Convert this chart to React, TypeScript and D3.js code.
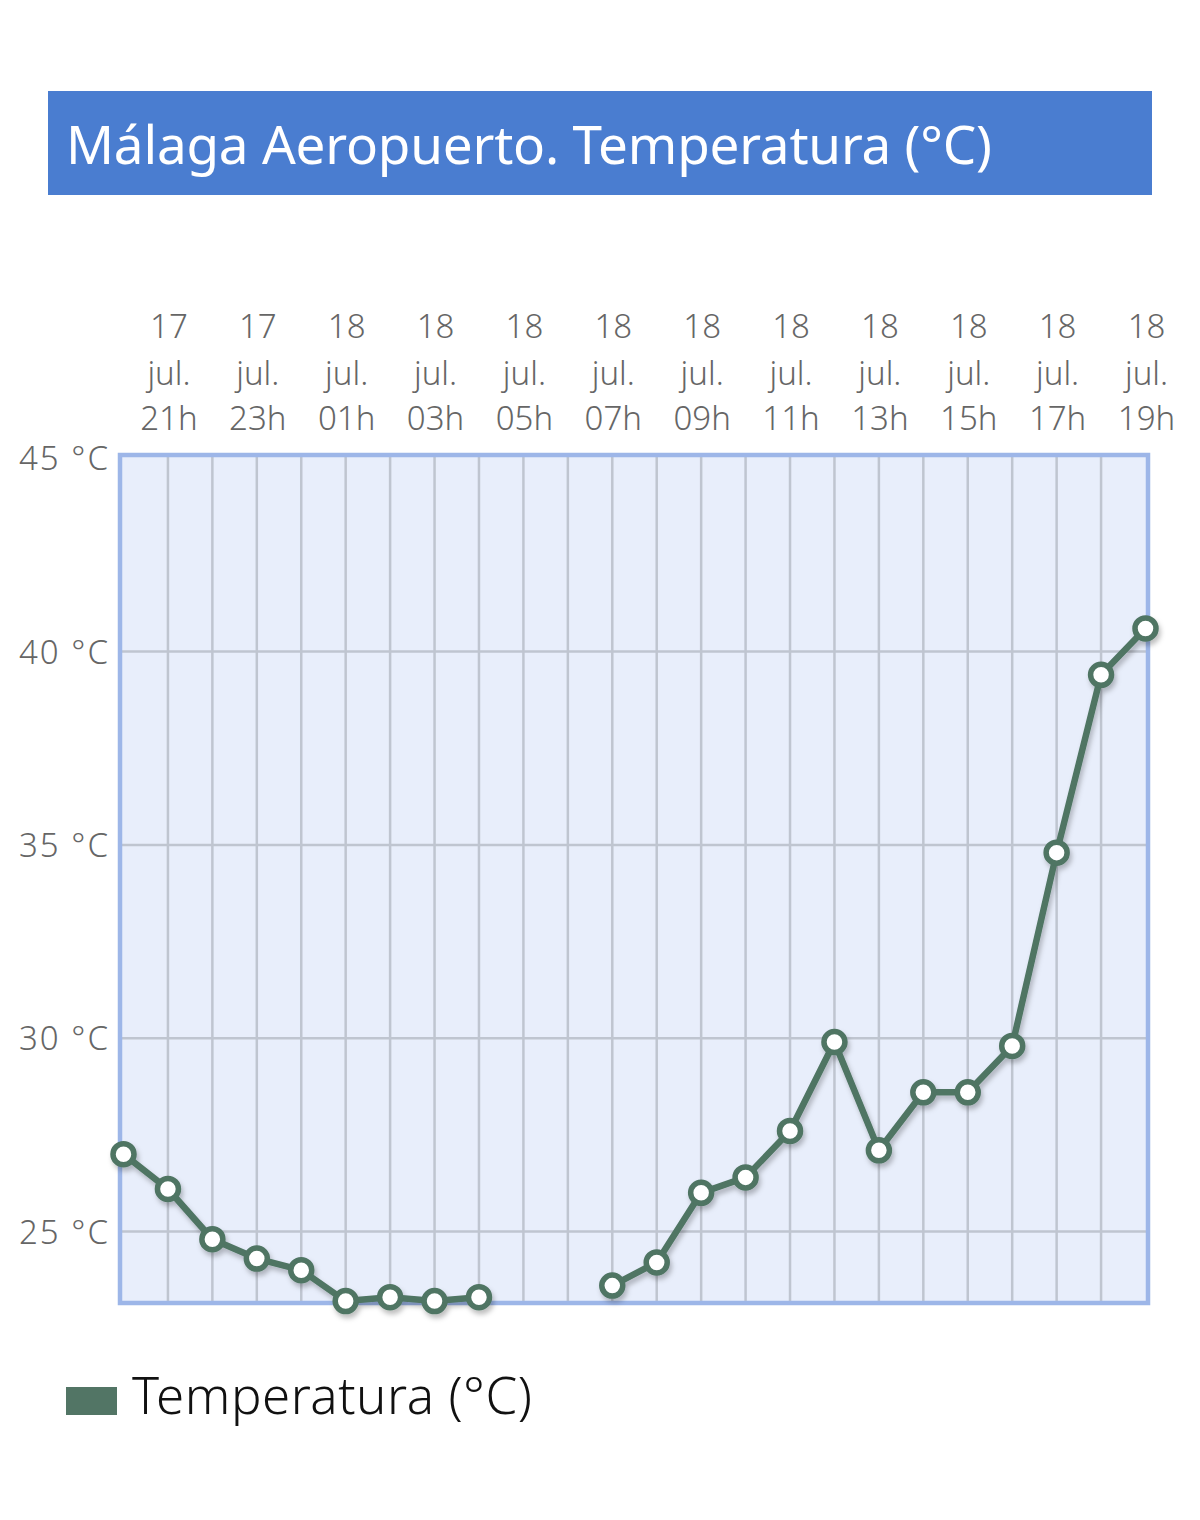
import React from "react";
import * as d3 from "d3";

const hours: string[] = ["20h","21h","22h","23h","00h","01h","02h","03h","04h","05h","06h","07h","08h","09h","10h","11h","12h","13h","14h","15h","16h","17h","18h","19h"];
const days: string[] = ["17","17","17","17","18","18","18","18","18","18","18","18","18","18","18","18","18","18","18","18","18","18","18","18"];
const temps: (number | null)[] = [27.0,26.1,24.8,24.3,24.0,23.2,23.3,23.2,23.3,null,null,23.6,24.2,26.0,26.4,27.6,29.9,27.1,28.6,28.6,29.8,34.8,39.4,40.6];
const yTicks: number[] = [25,30,35,40,45];
const title = "Málaga Aeropuerto. Temperatura (°C)";
const seriesName = "Temperatura (°C)";

const W = 1200, H = 1520;
const plot = { left: 120, right: 1148, top: 455, bottom: 1303 };
const FONT = "'Noto Sans', 'Open Sans', sans-serif";
const lineColor = "#4f7463";

export default function App() {
  const idx = d3.range(hours.length);
  const x = d3.scaleLinear().domain([0, hours.length - 1]).range([123.5, 1145.5]);
  const y = d3.scaleLinear().domain([25, 45]).range([1231.5, 458.3]);
  const line = d3.line<number>()
    .defined((i) => temps[i] != null)
    .x((i) => x(i))
    .y((i) => y(temps[i] as number));
  const pathD = line(idx) || "";

  return (
    <svg width={W} height={H} style={{ display: "block", margin: "-8px" }} fontFamily={FONT}>
      <defs>
        <filter id="sh" x="-10%" y="-10%" width="120%" height="120%">
          <feDropShadow dx="2" dy="4" stdDeviation="2.5" floodColor="#000" floodOpacity="0.25" />
        </filter>
      </defs>
      <rect x={0} y={0} width={W} height={H} fill="#fff" />
      <rect x={48} y={91} width={1104} height={104} fill="#4a7dd0" />
      <text x={66} y={164} fill="#fff" fontSize={53} fontWeight={400} textLength={926} lengthAdjust="spacing">{title}</text>

      <rect x={plot.left} y={plot.top} width={plot.right - plot.left} height={plot.bottom - plot.top} fill="#e8eefb" />
      {idx.slice(1, -1).map((i) => (
        <line key={"v" + i} x1={x(i)} x2={x(i)} y1={plot.top} y2={plot.bottom} stroke="#bfc5d0" strokeWidth={2.5} />
      ))}
      {yTicks.filter((t) => t < 45).map((t) => (
        <line key={"h" + t} x1={plot.left} x2={plot.right} y1={y(t)} y2={y(t)} stroke="#bfc5d0" strokeWidth={2.5} />
      ))}
      <rect x={plot.left} y={plot.top} width={plot.right - plot.left} height={plot.bottom - plot.top} fill="none" stroke="#9db6e8" strokeWidth={4.5} />

      {yTicks.map((t) => (
        <text key={"yt" + t} x={108} y={y(t) + 12} textAnchor="end" fontSize={33} fill="#666" fontWeight={300} textLength={89} lengthAdjust="spacing">{t} °C</text>
      ))}
      {idx.filter((i) => i % 2 === 1).map((i) => (
        <g key={"xt" + i} fill="#666" fontSize={33} fontWeight={300} textAnchor="middle">
          <text x={x(i) + 1} y={338}>{days[i]}</text>
          <text x={x(i) + 1} y={385}>jul.</text>
          <text x={x(i) + 1} y={430}>{hours[i]}</text>
        </g>
      ))}

      <g filter="url(#sh)">
        <path d={pathD} fill="none" stroke={lineColor} strokeWidth={6.5} strokeLinejoin="round" />
        {idx.filter((i) => temps[i] != null).map((i) => (
          <circle key={"p" + i} cx={x(i)} cy={y(temps[i] as number)} r={10.5} fill="#fff" stroke={lineColor} strokeWidth={5.5} />
        ))}
      </g>

      <rect x={66} y={1387} width={51} height={28} fill="#527565" />
      <text x={132} y={1414} fontSize={51} fill="#111" fontWeight={300} textLength={400} lengthAdjust="spacing">{seriesName}</text>
    </svg>
  );
}
